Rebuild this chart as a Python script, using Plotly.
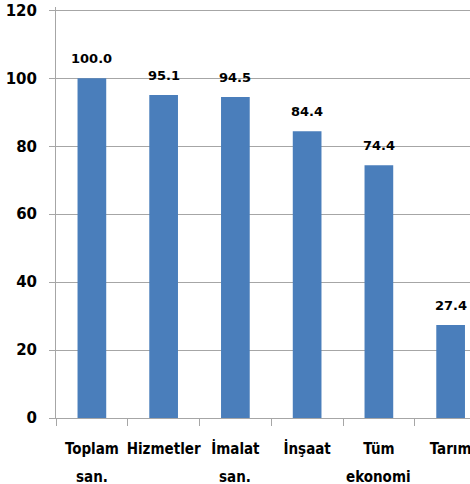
import plotly.graph_objects as go

categories = ["Toplam", "Hizmetler", "İmalat", "İnşaat", "Tüm", "Tarım"]
second_lines = ["san.", "", "san.", "", "ekonomi", ""]
values = [100.0, 95.1, 94.5, 84.4, 74.4, 27.4]
y_ticks = [0, 20, 40, 60, 80, 100, 120]

FONT = "DejaVu Sans"
CAT_FONT = "DejaVu Sans Condensed, DejaVu Sans"
GRID = "#A6A6A6"

fig = go.Figure(go.Bar(
    x=categories, y=values,
    marker=dict(color="#4A7EBB", line=dict(width=0)),
    width=0.4,
))

for c, v in zip(categories, values):
    fig.add_annotation(
        x=c, y=v, text=f"{v:.1f}", showarrow=False,
        yanchor="bottom", yshift=10,
        font=dict(family=FONT, size=13, color="#000000", weight="bold"),
    )

for c, s in zip(categories, second_lines):
    if s:
        fig.add_annotation(
            x=c, y=0, text=s, showarrow=False,
            yanchor="top", yshift=-48,
            font=dict(family=CAT_FONT, size=15, color="#000000", weight="bold"),
        )

fig.update_layout(
    width=470, height=484,
    margin=dict(l=56, r=0, t=7, b=66),
    paper_bgcolor="white", plot_bgcolor="white",
    showlegend=False,
    font=dict(family=FONT, color="#000000"),
    xaxis=dict(
        range=[-0.5, 5.27],
        showline=True, linecolor=GRID, linewidth=1,
        ticks="outside", ticklen=7, tickcolor=GRID, tickson="boundaries",
        tickfont=dict(family=CAT_FONT, size=15, weight="bold"),
        tickangle=0,
        ticklabelstandoff=17,
        showgrid=False,
    ),
    yaxis=dict(
        range=[0, 121], tickvals=y_ticks,
        showline=True, linecolor=GRID, linewidth=1,
        ticks="outside", ticklen=6, tickcolor=GRID,
        showgrid=True, gridcolor=GRID, gridwidth=1,
        tickfont=dict(family=FONT, size=15, weight="bold"),
        ticklabelstandoff=9,
        zeroline=False,
    ),
)

fig.write_html(
    "out.html",
    config={"displayModeBar": False},
    post_script="document.body.style.margin='0';document.body.style.overflow='hidden';",
)
